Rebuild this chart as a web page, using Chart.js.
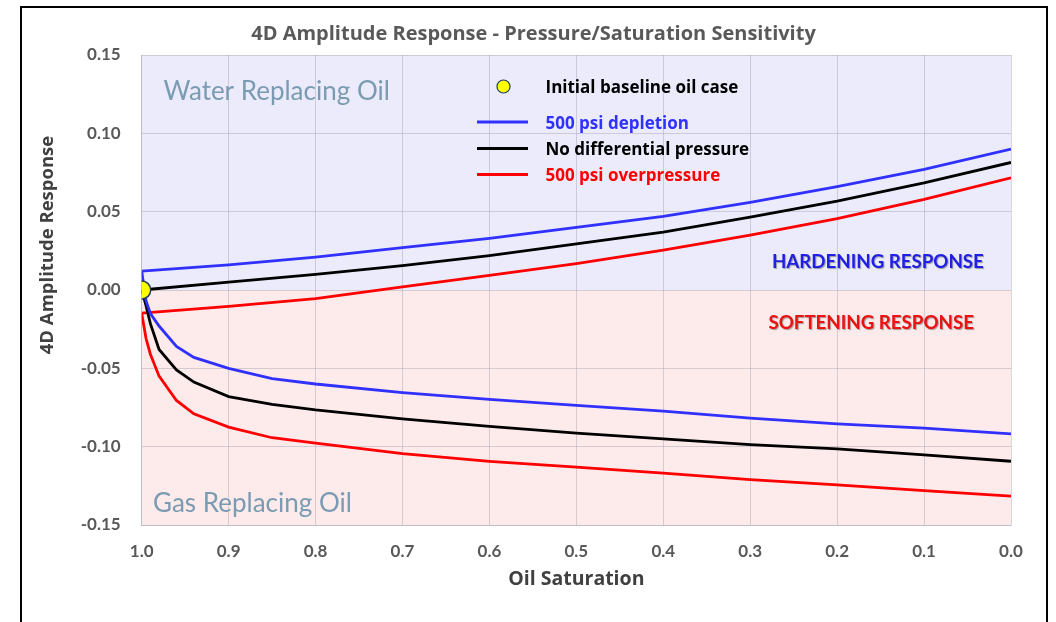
<!DOCTYPE html>
<html>
<head>
<meta charset="utf-8">
<title>4D Amplitude Response</title>
<script src="https://cdn.jsdelivr.net/npm/chart.js@4.4.1/dist/chart.umd.min.js"></script>
<style>
  html, body { margin: 0; padding: 0; background: #fff; }
  #chart { display: block; }
</style>
</head>
<body>
<canvas id="chart" width="1056" height="622"></canvas>
<script>
// --- data ---
const X_TICKS = [1.0, 0.9, 0.8, 0.7, 0.6, 0.5, 0.4, 0.3, 0.2, 0.1, 0.0];
const Y_TICKS = [-0.15, -0.10, -0.05, 0.00, 0.05, 0.10, 0.15];

// water replacing oil (upper branch)
const SAT_WATER = [1.0, 0.9, 0.8, 0.7, 0.6, 0.5, 0.4, 0.3, 0.2, 0.1, 0.0];
const WATER_DEPLETION = [0.012, 0.016, 0.021, 0.027, 0.033, 0.040, 0.047, 0.056, 0.066, 0.077, 0.090];
const WATER_NODIFF = [0.000, 0.005, 0.010, 0.0155, 0.022, 0.0295, 0.037, 0.0465, 0.0567, 0.0684, 0.0814];
const WATER_OVER = [-0.0147, -0.0104, -0.0055, 0.002, 0.0094, 0.0169, 0.0254, 0.035, 0.0456, 0.0578, 0.0716];

// gas replacing oil (lower branch)
const SAT_GAS = [1.0, 0.995, 0.99, 0.98, 0.96, 0.94, 0.9, 0.85, 0.8, 0.7, 0.6, 0.5, 0.4, 0.3, 0.2, 0.1, 0.0];
const GAS_DEPLETION = [0.012, -0.007, -0.015, -0.023, -0.036, -0.043, -0.050, -0.0566, -0.060, -0.0655, -0.0698, -0.0737, -0.0773, -0.0818, -0.0854, -0.0882, -0.0918];
const GAS_NODIFF = [0.000, -0.010, -0.0215, -0.038, -0.051, -0.0588, -0.068, -0.073, -0.0765, -0.0822, -0.0871, -0.0914, -0.095, -0.0987, -0.1014, -0.1052, -0.1093];
const GAS_OVER = [-0.015, -0.031, -0.041, -0.055, -0.0705, -0.079, -0.0875, -0.0943, -0.0978, -0.1045, -0.1094, -0.1131, -0.1169, -0.121, -0.1244, -0.128, -0.1316];

const BASELINE = [{ x: 1.0, y: 0.0 }];

const SERIES = [
    { label: "500 psi depletion", color: "#3030ff", water: WATER_DEPLETION, gas: GAS_DEPLETION },
    { label: "No differential pressure", color: "#000000", water: WATER_NODIFF, gas: GAS_NODIFF },
    { label: "500 psi overpressure", color: "#ff0000", water: WATER_OVER, gas: GAS_OVER },
];

const WATER_BG = "#ebebfb";
const GAS_BG = "#fdeaea";
const GRID = "rgba(150,150,165,0.38)";
const AXIS_TEXT = "#595959";
const WIDE = "'Open Sans', Lato, sans-serif";

Chart.defaults.font.family = "Lato, 'Open Sans', sans-serif";

function pairs(xs, ys) {
    return xs.map((x, i) => ({ x, y: ys[i] }));
}

const datasets = [{
    label: "Initial baseline oil case",
    type: "scatter",
    data: BASELINE,
    pointRadius: 9,
    pointBackgroundColor: "#ffff00",
    pointBorderColor: "#1f3d5c",
    pointBorderWidth: 1.5,
    showLine: false,
}];
SERIES.forEach(s => {
    const common = { borderColor: s.color, backgroundColor: s.color, borderWidth: 2.8,
        pointRadius: 0, tension: 0, fill: false };
    datasets.push({ label: s.label, data: pairs(SAT_WATER, s.water), ...common });
    datasets.push({ label: s.label, data: pairs(SAT_GAS, s.gas), ...common, legendSkip: true });
});

// plot background halves + outer frame
const backdrop = {
    id: "backdrop",
    beforeDraw(chart) {
        const { ctx, chartArea: a, scales: { y } } = chart;
        const y0 = y.getPixelForValue(0);
        ctx.save();
        ctx.fillStyle = "#fff";
        ctx.fillRect(0, 0, chart.width, chart.height);
        ctx.fillStyle = WATER_BG;
        ctx.fillRect(a.left, a.top, a.width, y0 - a.top);
        ctx.fillStyle = GAS_BG;
        ctx.fillRect(a.left, y0, a.width, a.bottom - y0);
        ctx.lineWidth = 2;
        ctx.strokeStyle = "#000";
        ctx.strokeRect(21, 7, 1026, 640);
        ctx.restore();
    },
};

// region captions and the rotated y title
const captions = {
    id: "captions",
    beforeDatasetsDraw(chart) {
        const { ctx, scales: { x, y } } = chart;
        ctx.save();
        ctx.textBaseline = "alphabetic";
        ctx.textAlign = "left";
        ctx.fillStyle = "#7a9bb2";
        ctx.font = "26px Lato";
        ctx.fillText("Water Replacing Oil", x.getPixelForValue(0.975), y.getPixelForValue(0.1212));
        ctx.fillText("Gas Replacing Oil", x.getPixelForValue(0.987), y.getPixelForValue(-0.1415));

        ctx.font = "bold 18.7px Lato";
        ctx.textBaseline = "middle";
        ctx.shadowColor = "rgba(0,0,0,0.35)";
        ctx.shadowOffsetX = 1;
        ctx.shadowOffsetY = 1;
        ctx.shadowBlur = 1;
        ctx.fillStyle = "#1f1fe6";
        ctx.fillText("HARDENING RESPONSE", x.getPixelForValue(0.275), y.getPixelForValue(0.0177));
        ctx.fillStyle = "#ee1111";
        ctx.fillText("SOFTENING RESPONSE", x.getPixelForValue(0.279), y.getPixelForValue(-0.0213));
        ctx.restore();

        ctx.save();
        ctx.translate(48, 245);
        ctx.rotate(-Math.PI / 2);
        ctx.textAlign = "center";
        ctx.textBaseline = "middle";
        ctx.fillStyle = "#404040";
        ctx.font = "bold 18.5px " + WIDE;
        ctx.fillText("4D Amplitude Response", 0, 0);
        ctx.restore();
    },
};

// legend drawn inside the plot, read from the datasets
const innerLegend = {
    id: "innerLegend",
    afterDatasetsDraw(chart) {
        const { ctx } = chart;
        const rows = chart.data.datasets.filter(d => !d.legendSkip);
        const ys = [86.5, 122.5, 149, 175];
        ctx.save();
        ctx.font = "bold 17px " + WIDE;
        ctx.textBaseline = "middle";
        ctx.textAlign = "left";
        rows.forEach((d, i) => {
            const yy = ys[i];
            if (d.type === "scatter") {
                ctx.beginPath();
                ctx.arc(503.5, yy, 6.5, 0, Math.PI * 2);
                ctx.fillStyle = d.pointBackgroundColor;
                ctx.fill();
                ctx.lineWidth = 1.2;
                ctx.strokeStyle = d.pointBorderColor;
                ctx.stroke();
                ctx.fillStyle = "#000";
            } else {
                ctx.beginPath();
                ctx.moveTo(477, yy - 0.5);
                ctx.lineTo(528, yy - 0.5);
                ctx.lineWidth = 2.8;
                ctx.strokeStyle = d.borderColor;
                ctx.stroke();
                ctx.fillStyle = d.borderColor;
            }
            ctx.fillText(d.label, 545.5, yy + 1.5);
        });
        ctx.restore();
    },
};

new Chart(document.getElementById("chart"), {
    type: "line",
    data: { datasets },
    plugins: [backdrop, captions, innerLegend],
    options: {
        responsive: false,
        animation: false,
        layout: { padding: { left: 56, right: 45, top: 0, bottom: 0 } },
        plugins: {
            legend: { display: false },
            tooltip: { enabled: false },
            title: {
                display: true,
                text: "4D Amplitude Response - Pressure/Saturation Sensitivity",
                color: AXIS_TEXT,
                font: { family: WIDE, size: 20, weight: "bold" },
                padding: { top: 22, bottom: 9 },
            },
        },
        scales: {
            x: {
                type: "linear",
                reverse: true,
                min: 0,
                max: 1,
                afterBuildTicks: s => { s.ticks = X_TICKS.map(v => ({ value: v })); },
                afterFit: s => { s.height = 97; },
                ticks: { color: AXIS_TEXT, font: { size: 17, weight: "bold" }, padding: 16,
                    callback: v => Number(v).toFixed(1), maxRotation: 0, autoSkip: false },
                grid: { color: GRID, drawTicks: false },
                border: { color: GRID },
                title: { display: true, text: "Oil Saturation", color: "#404040",
                    font: { family: WIDE, size: 19.5, weight: "bold" }, padding: { top: 0, bottom: 31 } },
            },
            y: {
                type: "linear",
                min: -0.15,
                max: 0.15,
                afterBuildTicks: s => { s.ticks = Y_TICKS.map(v => ({ value: v })); },
                afterFit: s => { s.width = 85.7; },
                ticks: { color: AXIS_TEXT, font: { size: 17, weight: "bold" }, padding: 21,
                    callback: v => Number(v).toFixed(2), autoSkip: false },
                grid: { color: GRID, drawTicks: false },
                border: { color: GRID },
            },
        },
    },
});
</script>
</body>
</html>
